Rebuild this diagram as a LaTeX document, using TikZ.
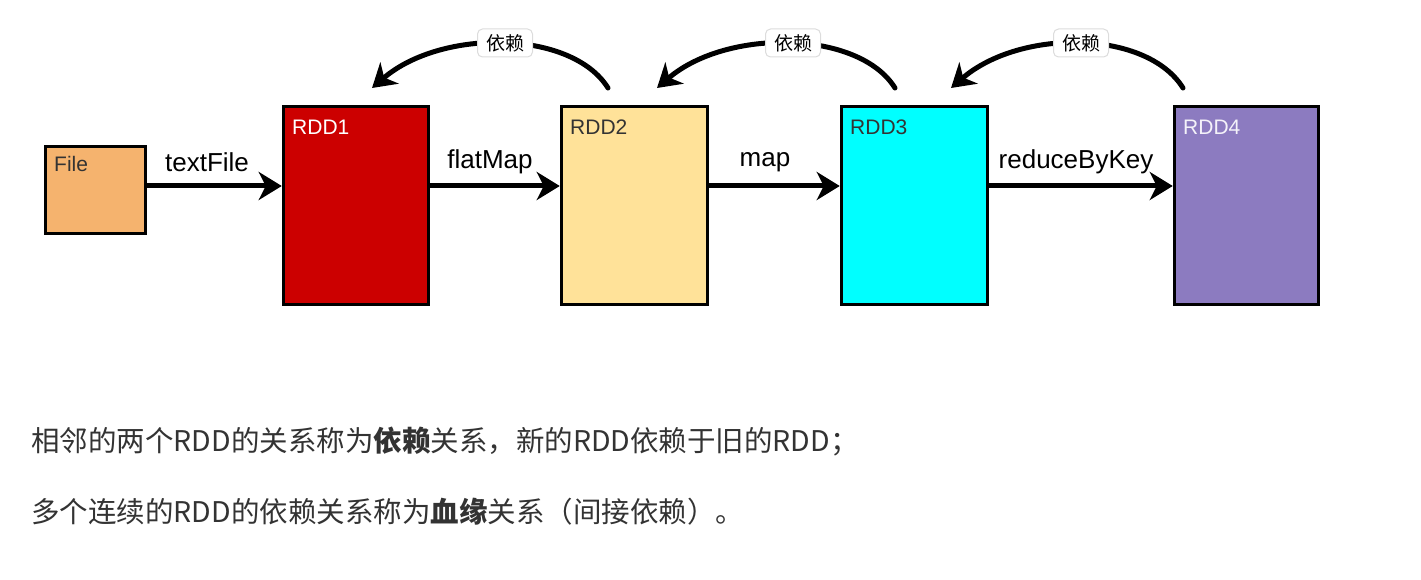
\documentclass[tikz,border=0pt]{standalone}
\usepackage{fontspec}
\setmainfont{Liberation Sans}
\newfontfamily\cjk{Noto Sans CJK SC}
\usetikzlibrary{arrows.meta}
\definecolor{filefill}{RGB}{245,179,110}
\definecolor{rddred}{RGB}{204,0,0}
\definecolor{rddyellow}{RGB}{255,226,153}
\definecolor{rddcyan}{RGB}{0,255,255}
\definecolor{rddpurple}{RGB}{140,123,192}
\definecolor{bodytext}{RGB}{51,51,51}
\definecolor{tagborder}{RGB}{220,220,220}
\tikzset{
  box/.style={draw=black, line width=3.5pt, inner sep=0pt, anchor=north west},
  boxlabel/.style={anchor=west, font=\fontsize{21}{24}\selectfont, inner sep=0pt},
  flow/.style={line width=5pt, -{Stealth[length=23pt,width=28pt,inset=7pt]}},
  dep/.style={line width=5pt, line cap=round, -{Stealth[length=23pt,width=28pt,inset=7pt]}},
  oplabel/.style={font=\fontsize{26}{28}\selectfont, inner sep=0pt},
  tag/.style={fill=white, draw=tagborder, line width=1pt, rounded corners=5pt,
    minimum width=55pt, minimum height=28pt, inner sep=2pt, font=\cjk\fontsize{19}{22}\selectfont},
  note/.style={anchor=west, inner sep=0pt, text=bodytext, font=\cjk\fontsize{28.5}{31}\selectfont}
}
\begin{document}
\begin{tikzpicture}[x=1pt,y=-1pt]
\useasboundingbox (0,0) rectangle (1421,580);
% boxes
\node[box, fill=filefill, minimum width=100pt, minimum height=87pt] (file) at (43.75,144.75) {};
\node[box, fill=rddred, minimum width=145pt, minimum height=198pt] (rdd1) at (281.75,104.75) {};
\node[box, fill=rddyellow, minimum width=146pt, minimum height=198pt] (rdd2) at (559.75,104.75) {};
\node[box, fill=rddcyan, minimum width=146pt, minimum height=198pt] (rdd3) at (839.75,104.75) {};
\node[box, fill=rddpurple, minimum width=144pt, minimum height=198pt] (rdd4) at (1172.75,104.75) {};
% box labels
\node[boxlabel, text=black!80] (lfile) at (54,164) {File};
\node[boxlabel, text=white] (l1) at (292,127) {RDD1};
\node[boxlabel, text=black!80] (l2) at (570,127) {RDD2};
\node[boxlabel, text=black!80] (l3) at (850,127) {RDD3};
\node[boxlabel, text=white!90!rddpurple] (l4) at (1183,127) {RDD4};
% horizontal flow
\draw[flow] (file.east |- 0,186) -- (rdd1.west |- 0,186);
\draw[flow] (rdd1.east |- 0,186) -- (rdd2.west |- 0,186);
\draw[flow] (rdd2.east |- 0,186) -- (rdd3.west |- 0,186);
\draw[flow] (rdd3.east |- 0,186) -- (rdd4.west |- 0,186);
\node[oplabel] (op1) at (207,162) {textFile};
\node[oplabel] (op2) at (490,162) {flatMap};
\node[oplabel] (op3) at (765,162) {map};
\node[oplabel] (op4) at (1076,162) {reduceByKey};
% dependency curves
\coordinate (t2) at (608,88);
\coordinate (h1) at (372,88);
\coordinate (t3) at (895,88);
\coordinate (h2) at (657,88);
\coordinate (t4) at (1183,88);
\coordinate (h3) at (951,88);
\draw[dep] (t2) .. controls (572,30) and (442,28) .. (h1);
\draw[dep] (t3) .. controls (859,30) and (727,28) .. (h2);
\draw[dep] (t4) .. controls (1147,30) and (1021,28) .. (h3);
\node[tag] (d1) at (505,43) {依赖};
\node[tag] (d2) at (793,43) {依赖};
\node[tag] (d3) at (1081,43) {依赖};
% notes
\node[note] (n1) at (31,442) {相邻的两个RDD的关系称为\textbf{依赖}关系，新的RDD依赖于旧的RDD；};
\node[note] (n2) at (31,512) {多个连续的RDD的依赖关系称为\textbf{血缘}关系（间接依赖）。};
\end{tikzpicture}
\end{document}
